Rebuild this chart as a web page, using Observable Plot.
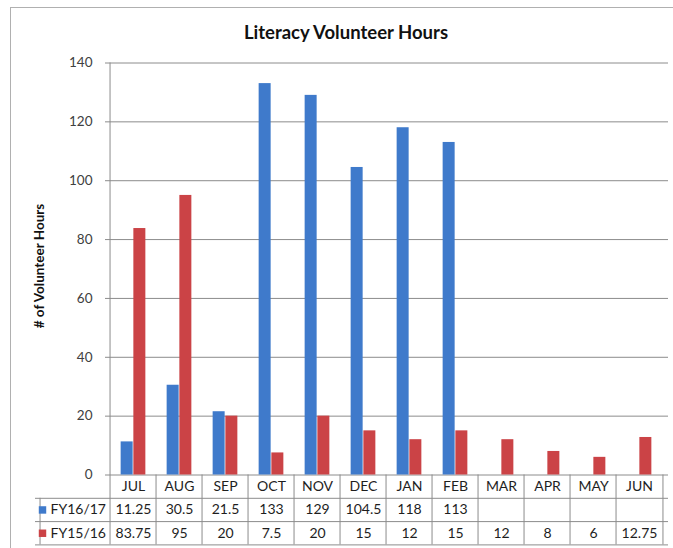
<!DOCTYPE html>
<html>
<head>
<meta charset="utf-8">
<script src="https://cdn.jsdelivr.net/npm/d3@7"></script>
<script src="https://cdn.jsdelivr.net/npm/@observablehq/plot@0.6"></script>
<style>
  body { margin: 0; background: #fff; }
  #wrap { position: relative; width: 673px; height: 548px; overflow: hidden; font-family: Lato, "Open Sans", sans-serif; }
  #border { position: absolute; left: 10px; top: 7px; right: -5px; bottom: -5px; border-left: 1px solid #b0b0b0; border-top: 1px solid #b0b0b0; }
  #title { position: absolute; left: 0; top: 21px; width: 692px; text-align: center; font-weight: bold; font-size: 18.5px; color: #111; }
  #plot { position: absolute; left: 0; top: 0; }
</style>
</head>
<body>
<div id="wrap">
  <div id="border"></div>
  <div id="plot"></div>
  <div id="title">Literacy Volunteer Hours</div>
</div>
<script>
const months = ["JUL", "AUG", "SEP", "OCT", "NOV", "DEC", "JAN", "FEB", "MAR", "APR", "MAY", "JUN"];
const seriesNames = ["FY16/17", "FY15/16"];
const fy1617 = [11.25, 30.5, 21.5, 133, 129, 104.5, 118, 113, null, null, null, null];
const fy1516 = [83.75, 95, 20, 7.5, 20, 15, 12, 15, 12, 8, 6, 12.75];
const yTicks = [0, 20, 40, 60, 80, 100, 120, 140];
const yLabel = "# of Volunteer Hours";
const colors = ["#3f7acb", "#cb4346"];

const rows1617 = months.map((m, i) => ({month: m, value: fy1617[i]})).filter(d => d.value != null);
const rows1516 = months.map((m, i) => ({month: m, value: fy1516[i]})).filter(d => d.value != null);

const W = 673, H = 548, mL = 105, mR = 5, mT = 62.5, mB = 73.5;
const step = (W - mL - mR) / months.length;
const half = step / 2;
const rowH = 23.3;
const tableDepth = rowH * 3;
const lineColor = "#8c8c8c";
const textColor = "#1e1e1e";
const zero = () => 0;

const plot = Plot.plot({
  width: W,
  height: H,
  marginLeft: mL,
  marginRight: mR,
  marginTop: mT,
  marginBottom: mB,
  style: {fontFamily: "Lato, 'Open Sans', sans-serif", fontSize: "13.5px", background: "transparent", color: "#404040", overflow: "visible"},
  x: {type: "band", domain: months, paddingInner: 0.729, paddingOuter: 0.3645, axis: null},
  y: {domain: [0, 140], ticks: yTicks, tickSize: 0, tickPadding: 13, label: null, tickFormat: d => String(d)},
  marks: [
    // gridlines and axis line
    Plot.ruleY(yTicks, {y: d => d, stroke: lineColor, strokeWidth: 1}),
    // bars
    Plot.barY(rows1617, {x: "month", y: "value", fill: colors[0], dx: -step * 0.1355}),
    Plot.barY(rows1516, {x: "month", y: "value", fill: colors[1], dx: step * 0.1355}),
    // left axis line extending through the table
    Plot.ruleX([months[0]], {x: d => d, dx: -half, stroke: lineColor, insetBottom: -tableDepth}),
    // month boundaries within table
    Plot.ruleX(months.slice(1), {x: d => d, dx: -half, y1: zero, y2: zero, insetBottom: -tableDepth, stroke: lineColor}),
    Plot.ruleX([months[months.length - 1]], {x: d => d, dx: half, y1: zero, y2: zero, insetBottom: -tableDepth, stroke: lineColor}),
    // left column border of legend cells
    Plot.ruleX([months[0]], {x: d => d, dx: -half - 70, y1: zero, y2: zero, insetTop: rowH, insetBottom: -tableDepth, stroke: lineColor}),
    // horizontal table lines
    ...[1, 2, 3].map(k => Plot.ruleY([0], {y: d => d, dy: rowH * k, insetLeft: -70, stroke: lineColor})),
    // month header
    Plot.text(months, {x: d => d, frameAnchor: "bottom", dy: rowH / 2, lineAnchor: "middle", fill: textColor, fontSize: 14}),
    // values
    Plot.text(rows1617, {x: "month", text: d => String(d.value), frameAnchor: "bottom", dy: rowH * 1.5, lineAnchor: "middle", fill: textColor, fontSize: 14}),
    Plot.text(rows1516, {x: "month", text: d => String(d.value), frameAnchor: "bottom", dy: rowH * 2.5, lineAnchor: "middle", fill: textColor, fontSize: 14}),
    // row labels with legend keys
    ...seriesNames.map((s, i) => Plot.text([s], {text: d => d, frameAnchor: "bottom-left", dx: -55, dy: rowH * (1.5 + i), textAnchor: "start", lineAnchor: "middle", fill: textColor, fontSize: 14})),
    ...seriesNames.map((s, i) => Plot.dot([s], {frameAnchor: "bottom-left", dx: -63, dy: rowH * (1.5 + i), symbol: "square", r: 4.2, fill: colors[i], stroke: "none"})),
    // y axis title
    Plot.text([yLabel], {text: d => d, frameAnchor: "left", dx: -66, dy: -3, rotate: -90, textAnchor: "middle", fontWeight: "bold", fontSize: 13.5, fill: "#111", lineAnchor: "middle"})
  ]
});
document.getElementById("plot").appendChild(plot);
</script>
</body>
</html>
